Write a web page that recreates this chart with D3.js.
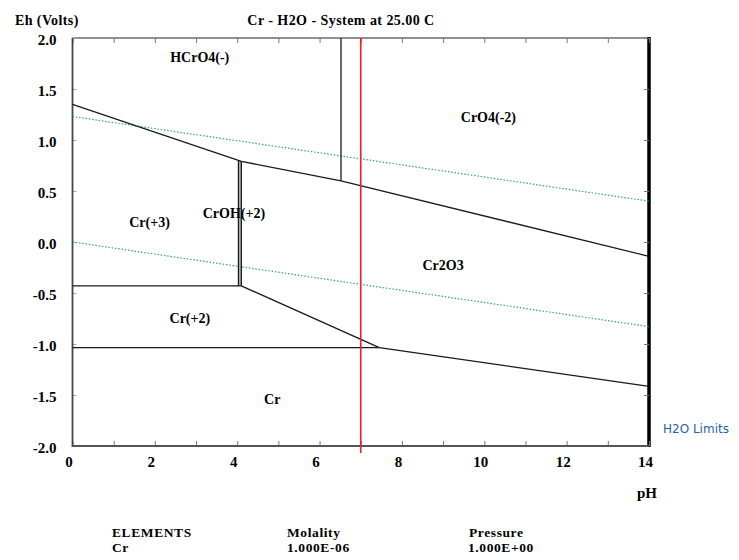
<!DOCTYPE html>
<html>
<head>
<meta charset="utf-8">
<script src="https://cdn.jsdelivr.net/npm/d3@7"></script>
<style>
    body { margin: 0; background: #fff; }
    svg { display: block; }
    .serif { font-family: "Liberation Serif", "Times New Roman", serif; font-weight: bold; fill: #000; }
</style>
</head>
<body>
<script>
// pH / Eh boundaries of the Cr - H2O diagram (pH, Eh in volts)
const xTicks = [0, 2, 4, 6, 8, 10, 12, 14];
const xMinorTicks = d3.range(0, 15, 1);
const yTicks = [-2.0, -1.5, -1.0, -0.5, 0.0, 0.5, 1.0, 1.5, 2.0];

const upperBoundary = [[0, 1.35], [4.10, 0.79], [6.52, 0.60], [14, -0.14]];
const hcro4Boundary = [[6.52, 0.60], [6.52, 2.0]];
const crohLeft = [[4.03, -0.43], [4.03, 0.80]];
const crohRight = [[4.10, -0.43], [4.10, 0.79]];
const cr3Cr2 = [[0, -0.43], [4.10, -0.43]];
const cr2Cr2o3 = [[4.10, -0.43], [7.45, -1.035]];
const cr2Cr = [[0, -1.035], [7.45, -1.035]];
const crCr2o3 = [[7.45, -1.035], [14, -1.415]];
const waterUpper = [[0, 1.23], [14, 0.40]];
const waterLower = [[0, 0.0], [14, -0.83]];
const neutralPH = 7;

const regionNames = ['HCrO4(-)', 'CrO4(-2)', 'Cr(+3)', 'CrOH(+2)', 'Cr2O3', 'Cr(+2)', 'Cr'];
const regionAt = [[3.09, 1.765], [10.1, 1.18], [1.87, 0.15], [3.92, 0.235], [9.0, -0.275], [2.85, -0.795], [4.85, -1.59]];

const footHeads = ['ELEMENTS', 'Molality', 'Pressure'];
const footValues = ['Cr', '1.000E-06', '1.000E+00'];

const svg = d3.select('body').append('svg')
    .attr('width', 739)
    .attr('height', 560);

const x = d3.scaleLinear().domain([0, 14]).range([72.5, 649]);
const y = d3.scaleLinear().domain([-2, 2]).range([446, 38]);

const line = d3.line().x(d => x(d[0])).y(d => y(d[1]));

// frame
svg.append('line')
    .attr('x1', x(0)).attr('x2', x(14)).attr('y1', y(2)).attr('y2', y(2))
    .style('stroke', '#222').style('stroke-width', 1.2);
svg.append('line')
    .attr('x1', x(14)).attr('x2', x(14)).attr('y1', y(2) - 1).attr('y2', y(-2) + 1)
    .style('stroke', '#000').style('stroke-width', 3.5);

// inner ticks
const tickAxis = (axis, tf) => svg.append('g')
    .attr('transform', tf)
    .call(axis)
    .call(g => g.select('.domain').remove())
    .call(g => g.selectAll('.tick line').style('stroke', '#777'))
    .call(g => g.selectAll('text').remove());

tickAxis(d3.axisTop(x).tickValues(xMinorTicks).tickSize(5), `translate(0, ${y(-2)})`);
tickAxis(d3.axisBottom(x).tickValues(xMinorTicks).tickSize(5), `translate(0, ${y(2)})`);
tickAxis(d3.axisRight(y).tickValues(yTicks).tickSize(4), `translate(${x(0)}, 0)`)
    .selectAll('.tick line').style('stroke', '#aaa');
tickAxis(d3.axisLeft(y).tickValues(yTicks).tickSize(5), `translate(${x(14)}, 0)`);

// left and bottom axis lines
svg.append('line')
    .attr('x1', x(0)).attr('x2', x(0)).attr('y1', y(2)).attr('y2', y(-2) + 1)
    .style('stroke', '#444').style('stroke-width', 1.8);
svg.append('line')
    .attr('x1', x(0)).attr('x2', x(14)).attr('y1', y(-2)).attr('y2', y(-2))
    .style('stroke', '#555').style('stroke-width', 2);

// tick labels
svg.append('g')
    .attr('transform', `translate(${x(0)}, 0)`)
    .call(d3.axisLeft(y).tickValues(yTicks).tickFormat(d => d.toFixed(1)).tickSize(0).tickPadding(16))
    .call(g => g.select('.domain').remove())
    .selectAll('text')
    .attr('class', 'serif')
    .attr('dy', '0.42em')
    .style('font-size', '15px');

svg.append('g')
    .attr('transform', `translate(0, ${y(-2)})`)
    .call(d3.axisBottom(x).tickValues(xTicks).tickFormat(d3.format('d')).tickSize(0))
    .call(g => g.select('.domain').remove())
    .selectAll('text')
    .attr('class', 'serif')
    .attr('y', 21)
    .attr('dy', null)
    .attr('dx', -4)
    .style('font-size', '15px');

// water stability limits
[waterUpper, waterLower].forEach(w => {
    svg.append('path')
        .datum(w)
        .attr('d', line)
        .style('fill', 'none')
        .style('stroke', '#2e9a9a')
        .style('stroke-width', 1.2)
        .style('stroke-dasharray', '1.5,1.8');
});

// gray fill between CrOH(+2) boundaries
svg.append('rect')
    .attr('x', x(crohLeft[0][0]))
    .attr('y', y(crohLeft[1][1]))
    .attr('width', x(crohRight[0][0]) - x(crohLeft[0][0]))
    .attr('height', y(crohLeft[0][1]) - y(crohLeft[1][1]))
    .style('fill', '#bbb');

// phase boundaries
[upperBoundary, hcro4Boundary, crohLeft, crohRight, cr3Cr2, cr2Cr2o3, cr2Cr, crCr2o3].forEach(b => {
    svg.append('path')
        .datum(b)
        .attr('d', line)
        .style('fill', 'none')
        .style('stroke', '#1a1a1a')
        .style('stroke-width', 1.3);
});

// neutral pH marker
svg.append('line')
    .attr('x1', x(neutralPH)).attr('x2', x(neutralPH))
    .attr('y1', y(2)).attr('y2', y(-2) + 7)
    .style('stroke', '#ff1a1a')
    .style('stroke-width', 1.6);

// region labels
svg.selectAll('text.region')
    .data(regionNames)
    .enter()
    .append('text')
    .attr('class', 'serif region')
    .attr('x', (d, i) => x(regionAt[i][0]))
    .attr('y', (d, i) => y(regionAt[i][1]))
    .attr('text-anchor', 'middle')
    .style('font-size', '14px')
    .text(d => d);

// titles
svg.append('text')
    .attr('class', 'serif')
    .attr('x', 15).attr('y', 25)
    .style('font-size', '14px')
    .style('letter-spacing', '0.4px')
    .text('Eh (Volts)');

svg.append('text')
    .attr('class', 'serif')
    .attr('x', 341).attr('y', 25)
    .attr('text-anchor', 'middle')
    .style('font-size', '14px')
    .style('letter-spacing', '0.45px')
    .text('Cr - H2O - System at 25.00 C');

svg.append('text')
    .attr('class', 'serif')
    .attr('x', 647).attr('y', 498)
    .attr('text-anchor', 'middle')
    .style('font-size', '15px')
    .text('pH');

svg.append('text')
    .attr('x', 663).attr('y', 433)
    .style('font-family', '"DejaVu Sans", sans-serif')
    .style('font-size', '12px')
    .style('fill', '#1f5fae')
    .text('H2O Limits');

// footer
const footX = [112, 287, 468];
svg.selectAll('text.foothead')
    .data(footHeads)
    .enter()
    .append('text')
    .attr('class', 'serif foothead')
    .attr('x', (d, i) => footX[i] + (i === 2 ? 1 : 0))
    .attr('y', 537)
    .style('font-size', '13.5px')
    .style('letter-spacing', '0.6px')
    .text(d => d);

svg.selectAll('text.footval')
    .data(footValues)
    .enter()
    .append('text')
    .attr('class', 'serif footval')
    .attr('x', (d, i) => footX[i])
    .attr('y', 552)
    .style('font-size', '13.5px')
    .style('letter-spacing', '0.6px')
    .text(d => d);
</script>
</body>
</html>
